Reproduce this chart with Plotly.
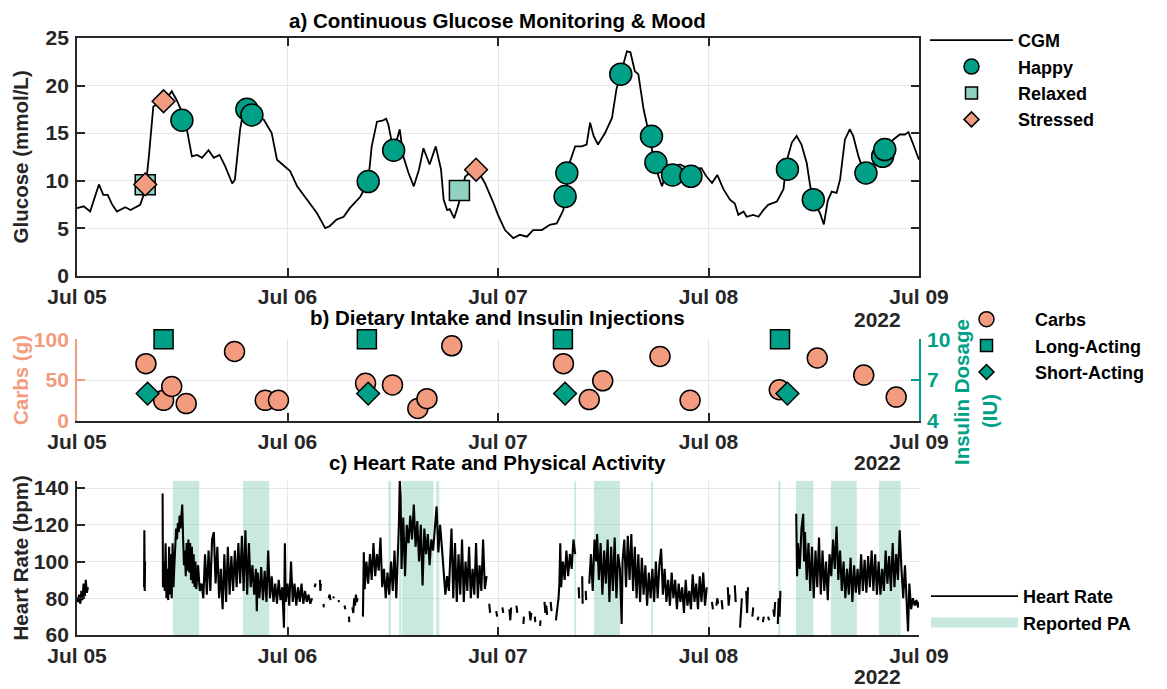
import pandas as pd
import plotly.graph_objects as go

BASE = pd.Timestamp("2022-07-05 00:00")

# ---------------- data (hours since Jul 05 00:00) ----------------
cgm_hours = [0.0, 0.76, 1.5, 2.5, 3.0, 3.5, 4.0, 4.55, 5.5, 6.1, 7.2, 7.8, 8.2, 8.7, 9.7, 10.5,
             10.8, 11.4, 12.3, 12.7, 13.1, 13.7, 14.25, 15.0, 15.6, 16.25, 16.9, 17.7, 18.0,
             18.6, 19.0, 19.9, 21.3, 22.2, 22.8, 23.3, 24.3, 25.1, 26.2, 27.35, 28.3, 28.8,
             29.6, 30.4, 31.1, 32.3, 33.2, 33.6, 34.2, 34.8, 35.25, 35.5, 35.9, 36.5, 36.8,
             37.2, 37.8, 38.4, 39.0, 39.5, 40.2, 40.9, 41.5, 41.8, 42.2, 42.5, 43.0, 43.5,
             44.25, 45.0, 45.6, 46.5, 47.5, 48.0, 48.8, 49.75, 50.5, 51.3, 52.0, 53.0, 53.9,
             54.7, 55.45, 55.8, 56.2, 56.8, 57.55, 58.1, 58.5, 58.9, 59.4, 60.2, 61.0, 61.5,
             62.1, 62.7, 63.1, 63.6, 64.0, 64.6, 65.1, 65.7, 66.3, 66.7, 67.3, 68.75, 69.9,
             71.2, 71.75, 72.4, 73.0, 73.7, 74.45, 75.0, 75.4, 76.0, 76.35, 77.1, 77.7, 78.25,
             78.8, 79.8, 80.55, 80.9, 81.5, 82.05, 82.6, 83.2, 83.6, 84.1, 84.7, 85.15, 85.6,
             86.05, 86.6, 87.0, 87.55, 88.1, 88.5, 89.1, 89.6, 90.4, 91.35, 92.3, 93.05, 93.8,
             94.4, 94.8, 95.35, 96.0]
cgm_mmol = [7.1, 7.3, 6.75, 9.6, 8.5, 8.5, 7.5, 6.75, 7.2, 6.9, 7.45, 9.0, 12.6, 17.8, 18.3, 19.0,
            19.4, 18.4, 16.5, 14.7, 12.55, 12.7, 12.4, 13.2, 12.4, 12.7, 11.5, 9.7, 10.1,
            15.4, 17.5, 17.1, 16.4, 15.0, 12.2, 11.8, 11.0, 9.4, 8.0, 6.6, 5.0, 5.2,
            5.9, 6.2, 7.1, 8.3, 9.9, 13.6, 16.2, 16.3, 16.5, 15.9, 14.0, 14.4, 15.4,
            12.55, 10.8, 9.4, 11.2, 13.4, 11.7, 13.6, 11.2, 8.0, 6.9, 7.0, 6.05, 7.5,
            10.4, 11.0, 11.2, 9.75, 7.6, 6.4, 4.8, 3.95, 4.3, 4.1, 4.8, 4.8, 5.35,
            5.5, 6.9, 9.4, 12.0, 13.6, 13.6, 13.8, 16.1, 14.7, 13.8, 15.0, 16.6, 19.6,
            21.7, 23.6, 23.5, 21.5, 21.2, 17.5, 15.4, 12.55, 10.45, 9.4, 11.2, 11.7, 11.2,
            11.3, 10.45, 9.75, 10.6, 9.1, 8.0, 7.6, 6.4, 6.75, 6.2, 6.4, 6.2, 6.9,
            7.45, 7.8, 9.1, 12.0, 14.0, 14.7, 13.8, 11.85, 9.4, 7.6, 6.6, 5.4, 7.9,
            8.85, 8.7, 10.1, 14.3, 15.4, 14.7, 12.55, 11.2, 11.3, 12.55, 13.4, 14.3, 14.85,
            14.85, 15.1, 13.8, 12.2]

happy_hours = [11.96, 19.37, 19.94, 33.2, 36.1, 55.65, 55.85, 62.0, 65.5, 66.0, 67.9, 70.0,
               81.0, 83.95, 89.95, 91.85, 92.1]
happy_mmol = [16.35, 17.5, 16.9, 9.9, 13.2, 8.33, 10.8, 21.2, 14.66, 11.9, 10.6, 10.45,
              11.2, 8.0, 10.8, 12.55, 13.26]
relaxed_hours = [7.78, 43.6]
relaxed_mmol = [9.57, 8.97]
stressed_hours = [7.78, 9.87, 45.5]
stressed_mmol = [9.6, 18.35, 11.15]

carb_hours = [7.86, 9.87, 10.8, 12.45, 17.96, 21.46, 22.97, 32.9, 35.97, 38.86, 39.9, 42.73,
              55.46, 58.4, 59.94, 66.47, 69.9, 80.07, 84.4, 89.7, 93.4]
carb_grams = [70, 25, 42, 21, 85, 25, 25, 46, 44, 15, 27, 92, 70, 26, 49, 79, 25, 38, 77, 56, 29]
long_hours = [9.87, 33.05, 55.4, 80.15]
long_iu = [10, 10, 10, 10]
short_hours = [8.05, 33.2, 55.65, 81.0]
short_iu = [6, 6, 6, 6]

# heart rate samples (hour, bpm); bpm None = gap in recording
hr_samples = [
    (0.0, 80), (0.12, 78), (0.25, 82), (0.38, 77), (0.5, 84), (0.62, 79), (0.75, 88), (0.88, 81),
    (1.0, 90), (1.12, 83), (1.25, 86), (1.3, None),
    (7.65, 86), (7.68, 117), (7.72, 84), (7.76, 100), (7.8, None),
    (9.76, 137), (9.8, 86), (9.9, 100), (10.0, 84), (10.1, 110), (10.2, 80), (10.3, 96), (10.4, 79),
    (10.5, 108), (10.6, 82), (10.7, 104), (10.8, 80), (10.9, 110), (11.0, 86), (11.1, 98), (11.2, 112),
    (11.3, 118), (11.4, 112), (11.5, 121), (11.6, 116), (11.7, 125), (11.8, 118), (11.9, 128), (12.0, 131),
    (12.1, 112), (12.2, 98), (12.3, 106), (12.4, 92), (12.5, 110), (12.6, 95), (12.7, 112), (12.8, 94),
    (12.9, 110), (13.0, 90), (13.1, 108), (13.2, 88), (13.3, 104), (13.4, 86), (13.5, 100), (13.6, 85),
    (13.8, 98), (14.0, 84), (14.2, 88), (14.4, 80), (14.6, 104), (14.8, 82), (15.0, 106), (15.2, 84),
    (15.4, 112), (15.6, 116), (15.8, 88), (16.0, 108), (16.2, 80), (16.4, 96), (16.6, 74), (16.8, 104),
    (17.0, 78), (17.2, 108), (17.4, 82), (17.6, 103), (17.8, 84), (18.0, 106), (18.2, 86), (18.4, 110),
    (18.6, 88), (18.8, 114), (19.0, 84), (19.2, 117), (19.4, 82), (19.6, 110), (19.8, 86), (20.0, 98),
    (20.2, 82), (20.4, 96), (20.5, 73), (20.6, 94), (20.8, 80), (21.0, 97), (21.2, 79), (21.4, 95),
    (21.6, 78), (21.8, 106), (22.0, 80), (22.2, 92), (22.4, 78), (22.6, 88), (22.8, 77), (23.0, 90),
    (23.2, 79), (23.4, 86), (23.6, 64), (23.7, 110), (23.8, 78), (24.0, 88), (24.2, 76), (24.4, 100),
    (24.6, 78), (24.8, 88), (25.0, 76), (25.2, 86), (25.4, 78), (25.6, 88), (25.8, 77), (26.0, 84),
    (26.2, 78), (26.4, 82), (26.6, 77), (26.8, 80), (26.9, None),
    (27.1, 86), (27.2, 88), (27.3, None), (27.7, 90), (27.75, 84), (27.8, 88), (27.9, None),
    (28.1, 77), (28.15, 75), (28.2, None), (28.7, 80), (28.8, 82), (28.9, 79), (29.0, None),
    (29.2, 80), (29.3, 81), (29.4, None), (29.8, 79), (29.9, 78), (30.0, None),
    (30.5, 76), (30.6, 74), (30.7, None), (31.0, 70), (31.05, 67), (31.1, None),
    (31.4, 75), (31.5, 72), (31.6, 80), (31.7, 76), (31.8, 82), (31.9, 78), (32.0, 80), (32.2, None),
    (32.6, 70), (32.7, 105), (32.8, 85), (33.0, 100), (33.2, 88), (33.4, 104), (33.6, 90), (33.8, 110),
    (34.0, 92), (34.2, 104), (34.4, 95), (34.6, 113), (34.8, 86), (35.0, 96), (35.2, 80), (35.4, 94),
    (35.6, 82), (35.8, 100), (36.0, 84), (36.2, 106), (36.4, 80), (36.6, 104), (36.7, 120), (36.8, 144),
    (36.9, 135), (37.0, 96), (37.2, 124), (37.4, 92), (37.6, 120), (37.8, 110), (38.0, 125), (38.2, 112),
    (38.4, 131), (38.6, 108), (38.8, 122), (39.0, 100), (39.2, 120), (39.4, 87), (39.6, 118), (39.8, 104),
    (40.0, 115), (40.2, 98), (40.4, 112), (40.6, 106), (40.8, 118), (41.0, 130), (41.2, 105), (41.4, 120),
    (41.6, 108), (41.8, 95), (42.0, 82), (42.2, 92), (42.4, 84), (42.7, 118), (42.9, 80), (43.1, 110),
    (43.3, 78), (43.5, 104), (43.7, 82), (43.9, 112), (44.1, 78), (44.3, 100), (44.5, 84), (44.7, 108),
    (44.9, 80), (45.1, 96), (45.3, 82), (45.5, 110), (45.7, 80), (45.9, 98), (46.1, 84), (46.3, 112),
    (46.5, 85), (46.7, 92), (46.8, None),
    (47.0, 77), (47.1, 72), (47.2, None), (47.8, 73), (47.9, 70), (48.0, None),
    (48.5, 75), (48.6, 72), (48.7, None), (49.3, 74), (49.4, 68), (49.5, 75), (49.6, None),
    (50.1, 76), (50.2, 72), (50.3, None), (50.9, 66), (50.95, 70), (51.0, None),
    (51.6, 73), (51.7, 68), (51.8, 72), (51.9, None), (52.2, 70), (52.25, 67), (52.3, None),
    (52.8, 65), (52.85, 68), (52.9, None), (53.3, 78), (53.4, 72), (53.5, 76), (53.6, 71), (53.7, None),
    (54.0, 78), (54.1, 73), (54.2, None),
    (54.6, 68), (54.7, 72), (54.8, 75), (54.9, 80), (55.0, 88), (55.1, 110), (55.2, 86), (55.4, 100),
    (55.6, 90), (55.8, 106), (56.0, 92), (56.2, 104), (56.4, 96), (56.6, 112), (56.8, 104), (56.9, None),
    (57.2, 86), (57.25, 80), (57.3, None), (57.6, 92), (57.65, 77), (57.7, None),
    (58.0, 84), (58.05, 79), (58.1, None),
    (58.4, 88), (58.6, 104), (58.8, 84), (59.0, 112), (59.2, 100), (59.3, 115), (59.5, 90), (59.7, 110),
    (59.9, 82), (60.1, 106), (60.3, 88), (60.5, 112), (60.7, 78), (60.9, 108), (61.1, 84), (61.3, 113),
    (61.5, 80), (61.7, 104), (61.9, 96), (62.1, 66), (62.2, 100), (62.4, 112), (62.6, 86), (62.8, 114),
    (63.0, 90), (63.2, 115), (63.4, 84), (63.6, 108), (63.8, 80), (64.0, 104), (64.2, 78), (64.4, 102),
    (64.6, 82), (64.8, 98), (65.0, 76), (65.2, 94), (65.4, 80), (65.6, 96), (65.8, 78), (66.0, 100),
    (66.2, 80), (66.4, 98), (66.6, 107), (66.8, 82), (67.0, 96), (67.2, 78), (67.4, 90), (67.6, 76),
    (67.8, 94), (68.0, 80), (68.2, 90), (68.4, 74), (68.6, 88), (68.8, 78), (69.0, 86), (69.2, 72),
    (69.4, 90), (69.6, 76), (69.8, 84), (70.0, 74), (70.2, 93), (70.4, 78), (70.6, 88), (70.8, 74),
    (71.0, 92), (71.2, 78), (71.4, 94), (71.6, 76), (71.8, 86), (71.9, None),
    (72.4, 78), (72.5, 74), (72.6, None), (72.9, 76), (73.0, 80), (73.1, 77), (73.2, None),
    (73.5, 79), (73.6, 74), (73.7, None), (74.2, 86), (74.3, 76), (74.4, 82), (74.5, None),
    (75.0, 87), (75.1, 78), (75.2, None), (75.6, 64), (75.7, 70), (75.8, 80), (75.9, None),
    (76.3, 84), (76.4, 72), (76.5, 86), (76.6, None), (77.0, 70), (77.1, 75), (77.2, None),
    (77.6, 68), (77.7, 70), (77.8, None), (78.2, 67), (78.3, 70), (78.4, None),
    (78.8, 70), (78.9, 68), (79.0, None), (79.4, 74), (79.5, 70), (79.6, 78), (79.7, None),
    (79.9, 66), (80.0, 80), (80.1, 70), (80.2, 84), (80.3, None),
    (82.0, 126), (82.1, 92), (82.2, 110), (82.4, 96), (82.6, 118), (82.8, 126), (82.9, 100), (83.0, 116),
    (83.2, 90), (83.4, 110), (83.6, 84), (83.8, 108), (84.0, 80), (84.2, 106), (84.4, 86), (84.6, 113),
    (84.8, 82), (85.0, 106), (85.2, 84), (85.4, 100), (85.6, 79), (85.8, 104), (86.0, 92), (86.2, 112),
    (86.4, 96), (86.6, 119), (86.8, 90), (87.0, 106), (87.2, 84), (87.4, 100), (87.6, 80), (87.8, 96),
    (88.0, 82), (88.2, 102), (88.4, 78), (88.6, 98), (88.8, 83), (89.0, 96), (89.2, 82), (89.4, 104),
    (89.6, 84), (89.8, 101), (90.0, 83), (90.2, 103), (90.4, 86), (90.6, 106), (90.8, 84), (91.0, 104),
    (91.2, 82), (91.4, 100), (91.6, 82), (91.8, 96), (92.0, 84), (92.2, 106), (92.4, 88), (92.6, 103),
    (92.8, 84), (93.0, 110), (93.2, 86), (93.4, 104), (93.6, 90), (93.8, 117), (94.0, 96), (94.2, 80),
    (94.4, 98), (94.6, 76), (94.75, 62), (94.9, 88), (95.1, 74), (95.3, 80), (95.5, 76), (95.7, 79),
    (95.9, 75), (96.0, 78),
]

pa_start_hours = [10.93, 18.92, 35.5, 36.73, 37.08, 40.95, 56.7, 58.95, 65.45, 79.95, 81.97, 85.96, 91.43]
pa_end_hours = [13.93, 21.91, 35.8, 36.98, 40.64, 41.3, 56.9, 61.9, 65.65, 80.2, 83.95, 88.9, 93.9]

day_ticks = ["2022-07-05", "2022-07-06", "2022-07-07", "2022-07-08", "2022-07-09"]
day_labels = ["Jul 05", "Jul 06", "Jul 07", "Jul 08", "Jul 09"]
year_label = "2022"

# ---------------- helpers ----------------
def to_dt(hours):
    return [BASE + pd.Timedelta(hours=h) for h in hours]

HAPPY = "#00A087"
RELAX = "#91D1C2"
STRESS = "#F39B7F"
CARB = "#F39B7F"
TEAL = "#00A087"
PA_FILL = "rgba(145,209,194,0.5)"
AX = "#262626"
GRID = "#E6E6E6"
FONT = "Liberation Sans, Arial, sans-serif"

hr_x = to_dt([h for h, v in hr_samples])
hr_y = [v for h, v in hr_samples]

HR_LO, HR_HI = 60, 144
pa_x, pa_y = [], []
for s, e in zip(pa_start_hours, pa_end_hours):
    pa_x += to_dt([s, s, e, e, s]) + [None]
    pa_y += [HR_LO, HR_HI, HR_HI, HR_LO, HR_LO, None]

fig = go.Figure()

# ---- panel a ----
fig.add_trace(go.Scatter(x=to_dt(cgm_hours), y=cgm_mmol, mode="lines",
                         line=dict(color="black", width=1.8), xaxis="x", yaxis="y",
                         showlegend=False, hoverinfo="skip"))
fig.add_trace(go.Scatter(x=to_dt(happy_hours), y=happy_mmol, mode="markers", xaxis="x", yaxis="y",
                         marker=dict(symbol="circle", size=22, color=HAPPY, line=dict(color="black", width=1.5)),
                         showlegend=False, cliponaxis=False))
fig.add_trace(go.Scatter(x=to_dt(relaxed_hours), y=relaxed_mmol, mode="markers", xaxis="x", yaxis="y",
                         marker=dict(symbol="square", size=20, color=RELAX, line=dict(color="black", width=1.5)),
                         showlegend=False, cliponaxis=False))
fig.add_trace(go.Scatter(x=to_dt(stressed_hours), y=stressed_mmol, mode="markers", xaxis="x", yaxis="y",
                         marker=dict(symbol="diamond", size=17.5, color=STRESS, line=dict(color="black", width=1.5)),
                         showlegend=False, cliponaxis=False))

# ---- panel b ----
fig.add_trace(go.Scatter(x=to_dt(carb_hours), y=carb_grams, mode="markers", xaxis="x2", yaxis="y2",
                         marker=dict(symbol="circle", size=20, color=CARB, line=dict(color="black", width=1.5)),
                         showlegend=False, cliponaxis=False))
fig.add_trace(go.Scatter(x=to_dt(long_hours), y=long_iu, mode="markers", xaxis="x2", yaxis="y3",
                         marker=dict(symbol="square", size=19, color=TEAL, line=dict(color="black", width=1.5)),
                         showlegend=False, cliponaxis=False))
fig.add_trace(go.Scatter(x=to_dt(short_hours), y=short_iu, mode="markers", xaxis="x2", yaxis="y3",
                         marker=dict(symbol="diamond", size=17.5, color=TEAL, line=dict(color="black", width=1.5)),
                         showlegend=False, cliponaxis=False))

# ---- panel c ----
fig.add_trace(go.Scatter(x=pa_x, y=pa_y, mode="lines", fill="toself", fillcolor=PA_FILL,
                         line=dict(width=0, color=PA_FILL), xaxis="x3", yaxis="y4",
                         showlegend=False, hoverinfo="skip"))
fig.add_trace(go.Scatter(x=hr_x, y=hr_y, mode="lines", line=dict(color="black", width=2.1),
                         connectgaps=False, xaxis="x3", yaxis="y4", showlegend=False))

# ---- legend entries ----
def leg(name, legend, **kw):
    fig.add_trace(go.Scatter(x=[None], y=[None], name=name, legend=legend,
                             xaxis="x", yaxis="y", showlegend=True, **kw))

leg("CGM", "legend", mode="lines", line=dict(color="black", width=1.8))
leg("Happy", "legend", mode="markers",
    marker=dict(symbol="circle", size=15, color=HAPPY, line=dict(color="black", width=1.5)))
leg("Relaxed", "legend", mode="markers",
    marker=dict(symbol="square", size=12, color=RELAX, line=dict(color="black", width=1.5)))
leg("Stressed", "legend", mode="markers",
    marker=dict(symbol="diamond", size=11.5, color=STRESS, line=dict(color="black", width=1.5)))
leg("Carbs", "legend2", mode="markers",
    marker=dict(symbol="circle", size=15, color=CARB, line=dict(color="black", width=1.5)))
leg("Long-Acting", "legend2", mode="markers",
    marker=dict(symbol="square", size=12, color=TEAL, line=dict(color="black", width=1.5)))
leg("Short-Acting", "legend2", mode="markers",
    marker=dict(symbol="diamond", size=11.5, color=TEAL, line=dict(color="black", width=1.5)))
leg("Heart Rate", "legend3", mode="lines", line=dict(color="black", width=1.8))
leg("Reported PA", "legend3", mode="lines", line=dict(color="#C8E8E0", width=10))

# ---------------- layout ----------------
W, H = 1167, 689
ML, MR, MT, MB = 77, 248, 38, 54
PW, PH = W - ML - MR, H - MT - MB

def py(pix):   # pixel row -> paper y
    return (H - MB - pix) / PH

def px(pix):   # pixel column -> paper x
    return (pix - ML) / PW

tickfont = dict(family=FONT, size=21, color=AX, weight="bold")

def xax(anchor, mirror=False):
    return dict(domain=[0, 1], anchor=anchor, type="date",
                range=[day_ticks[0], day_ticks[-1]],
                tickmode="array", tickvals=day_ticks, ticktext=day_labels,
                showgrid=True, gridcolor=GRID, gridwidth=1.3,
                showline=True, linecolor=AX, linewidth=1.8, mirror="ticks" if mirror else False,
                ticks="inside", ticklen=8, tickwidth=1.8, tickcolor=AX,
                tickfont=tickfont, ticklabelstandoff=1, zeroline=False)

def yax(domain, rng, vals, title, standoff, color=AX, mirror=False, grid=True):
    return dict(domain=domain, anchor=None, range=rng, tickmode="array", tickvals=vals,
                showgrid=grid, gridcolor=GRID, gridwidth=1.3,
                showline=True, linecolor=color, linewidth=1.8, mirror="ticks" if mirror else False,
                ticks="inside", ticklen=8, tickwidth=1.8, tickcolor=color,
                tickfont=dict(family=FONT, size=21, color=color, weight="bold"),
                ticklabelstandoff=2, zeroline=False,
                title=dict(text=title, standoff=standoff,
                           font=dict(family=FONT, size=20.5, color=color, weight="bold")))

ya = yax([py(275.7), 1.0], [0, 25], [0, 5, 10, 15, 20, 25], "Glucose (mmol/L)", 11, mirror=True)
ya["anchor"] = "x"
yb = yax([py(420.7), py(339.3)], [0, 100], [0, 50, 100], "Carbs (g)", 0, color=CARB)
yb["anchor"] = "x2"
yb_r = yax([py(420.7), py(339.3)], [4, 10], [4, 7, 10], "", 2, color=TEAL, grid=False)
yb_r.update(anchor="x2", overlaying="y2", side="right")
yb_r.pop("domain")
yb_r.pop("title")
yc = yax([0, py(480.7)], [HR_LO, HR_HI], [60, 80, 100, 120, 140], "Heart Rate (bpm)", 0)
yc["anchor"] = "x3"

legfont = dict(family=FONT, size=18, color="black", weight="bold")

annotations = []
for text, ypix in [("a) Continuous Glucose Monitoring & Mood", 21),
                   ("b) Dietary Intake and Insulin Injections", 317),
                   ("c) Heart Rate and Physical Activity", 463)]:
    annotations.append(dict(text=text, xref="paper", yref="paper", x=px(497), y=py(ypix),
                            xanchor="center", yanchor="middle", showarrow=False,
                            font=dict(family=FONT, size=20.5, color="black", weight="bold")))
for ypix in [319, 463, 676]:
    annotations.append(dict(text=year_label, xref="paper", yref="paper", x=px(903), y=py(ypix),
                            xanchor="right", yanchor="middle", showarrow=False,
                            font=dict(family=FONT, size=21, color=AX, weight="bold")))
# right-hand (insulin) axis title, two lines
for text, xpix, ypix in [("Insulin Dosage", 961, 392), ("(IU)", 989, 411)]:
    annotations.append(dict(text=text, xref="paper", yref="paper", x=px(xpix), y=py(ypix),
                            xanchor="center", yanchor="middle", textangle=-90, showarrow=False,
                            font=dict(family=FONT, size=20.5, color=TEAL, weight="bold")))

fig.update_layout(
    width=W, height=H, margin=dict(l=ML, r=MR, t=MT, b=MB, autoexpand=False),
    paper_bgcolor="white", plot_bgcolor="white",
    font=dict(family=FONT, size=20, color=AX),
    xaxis=xax("y", mirror=True), xaxis2=xax("y2"), xaxis3=xax("y4"),
    yaxis=ya, yaxis2=yb, yaxis3=yb_r, yaxis4=yc,
    legend=dict(x=px(925), y=py(22), xanchor="left", yanchor="top", font=legfont,
                bgcolor="rgba(0,0,0,0)", itemwidth=83),
    legend2=dict(x=px(938), y=py(301), xanchor="left", yanchor="top", font=legfont,
                 bgcolor="rgba(0,0,0,0)", itemwidth=87),
    legend3=dict(x=px(926), y=py(578), xanchor="left", yanchor="top", font=legfont,
                 bgcolor="rgba(0,0,0,0)", itemwidth=87),
    annotations=annotations,
    hovermode=False,
)

fig.write_html("out.html", config={"displayModeBar": False},
               post_script="document.body.style.margin='0';document.body.style.overflow='hidden';")
